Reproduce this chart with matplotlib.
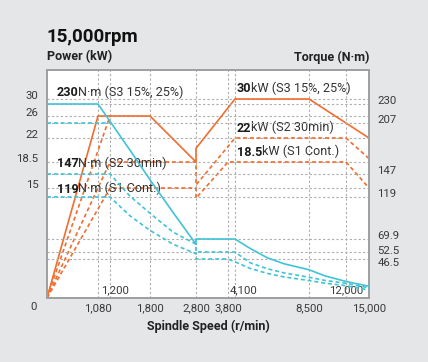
import numpy as np
import matplotlib
matplotlib.use("Agg")
import matplotlib.pyplot as plt
from matplotlib.transforms import ScaledTranslation

# ---------------- data ----------------
# Power curves (kW) vs spindle speed (r/min)
p_s3_rpm = [0, 1080, 1800, 2800, 2800, 4100, 8500, 15000]
p_s3_kw = [0, 26, 26, 18.5, 20.5, 30, 30, 22]

p_s3b_rpm = [0, 1200]
p_s3b_kw = [0, 26]

p_s2_rpm = [0, 1200, 2800, 2800, 4100, 12000, 15000]
p_s2_kw = [0, 18.5, 18.5, 15.4, 22, 22, 19]

p_s1_rpm = [0, 1200, 2800, 2800, 3800, 12000, 15000]
p_s1_kw = [0, 15, 15, 13.6, 18.5, 18.5, 15]

# Torque curves (N·m)
t_s3_rpm = [0, 1080, 1500, 1800, 2300, 2800, 2800, 4100, 5000, 6000, 7000, 8500, 10000, 12000, 15000]
t_s3_nm = [230, 230, 175, 140, 101, 63, 69.9, 69.9, 57.3, 47.7, 40.9, 33.7, 26.4, 19.7, 14.0]

t_s3b_rpm = [0, 1200]
t_s3b_nm = [207, 207]

t_s2_rpm = [0, 1200, 1500, 1800, 2300, 2800, 2800, 4100, 5000, 6000, 7000, 8500, 10000, 12000, 15000]
t_s2_nm = [147, 147, 120, 100, 78, 63, 52.5, 52.5, 42, 35, 30, 24.7, 21, 17.5, 12.1]

t_s1_rpm = [0, 1200, 1500, 1800, 2300, 2800, 2800, 3800, 4100, 5000, 6000, 7000, 8500, 10000, 12000, 15000]
t_s1_nm = [119, 119, 97, 80, 63, 51, 46.5, 46.5, 43.1, 35.3, 29.4, 25.2, 20.8, 17.7, 14.7, 9.5]

x_ticks = [1080, 1800, 2800, 3800, 8500, 15000]
x_tick_labels = ["1,080", "1,800", "2,800", "3,800", "8,500", "15,000"]
x_inner = [1200, 4100, 12000]
x_inner_labels = ["1,200", "4,100", "12,000"]
power_ticks = [15, 18.5, 22, 26, 30]
power_tick_labels = ["15", "18.5", "22", "26", "30"]
torque_ticks = [46.5, 52.5, 69.9, 119, 147, 207, 230]
torque_tick_labels = ["46.5", "52.5", "69.9", "119", "147", "207", "230"]

# ---------------- layout / scales ----------------
W, H = 428, 362
DPI = 100
AX_L, AX_R, AX_T, AX_B = 47, 369, 70, 298

# non-uniform axis scales of the original chart (value -> pixel distance)
X_ANCH_V = [0, 1080, 1200, 1800, 2800, 3800, 4100, 8500, 12000, 15000]
X_ANCH_P = [0, 51, 63, 103, 149, 181, 188, 262, 299, 322]
P_ANCH_V = [0, 15, 18.5, 22, 26, 30, 36.8]
P_ANCH_P = [0, 110, 136, 160, 182, 199, 228]
T_ANCH_V = [0, 46.5, 52.5, 69.9, 119, 147, 207, 230, 270.5]
T_ANCH_P = [0, 39, 46, 59, 101, 124, 175, 194, 228]


def make_scale(av, ap):
    def fwd(v):
        return np.interp(v, av, ap)

    def inv(p):
        return np.interp(p, ap, av)
    return fwd, inv


ORANGE = "#f26d2e"
CYAN = "#3fc3d6"
GRID = "#adadad"
TXT = "#3a3a3a"
FONT = ["Roboto", "DejaVu Sans"]
plt.rcParams["font.family"] = FONT

fig = plt.figure(figsize=(W / DPI, H / DPI), dpi=DPI)
fig.patch.set_facecolor("#e5e6e8")
ax = fig.add_axes([AX_L / W, 1 - AX_B / H, (AX_R - AX_L) / W, (AX_B - AX_T) / H])
ax.set_facecolor("white")
ax.set_xscale("function", functions=make_scale(X_ANCH_V, X_ANCH_P))
ax.set_yscale("function", functions=make_scale(P_ANCH_V, P_ANCH_P))
ax.set_xlim(0, 15000)
ax.set_ylim(0, 36.8)

ax2 = ax.twinx()
ax2.set_yscale("function", functions=make_scale(T_ANCH_V, T_ANCH_P))
ax2.set_ylim(0, 270.5)

for a in (ax, ax2):
    for s in a.spines.values():
        s.set_color("#a0a0a0")
        s.set_linewidth(1.3)

# grid lines
gkw = dict(color=GRID, lw=0.8, ls=(0, (2, 2)), zorder=1)
for v in x_ticks[:-1] + x_inner:
    ax.axvline(v, **gkw)
for v in power_ticks:
    ax.axhline(v, **gkw)
for v in torque_ticks:
    ax2.axhline(v, **gkw)

LW = 1.2
DASH = (2.4, 1.7)
ax.plot(p_s3_rpm, p_s3_kw, color=ORANGE, lw=LW, zorder=3)
ax.plot(p_s3b_rpm, p_s3b_kw, color=ORANGE, lw=LW, dashes=DASH, zorder=3)
ax.plot(p_s2_rpm, p_s2_kw, color=ORANGE, lw=LW, dashes=DASH, zorder=3)
ax.plot(p_s1_rpm, p_s1_kw, color=ORANGE, lw=LW, dashes=DASH, zorder=3)

ax2.plot(t_s3_rpm, t_s3_nm, color=CYAN, lw=LW, zorder=3)
ax2.plot(t_s3b_rpm, t_s3b_nm, color=CYAN, lw=LW, dashes=DASH, zorder=3)
ax2.plot(t_s2_rpm, t_s2_nm, color=CYAN, lw=LW, dashes=DASH, zorder=3)
ax2.plot(t_s1_rpm, t_s1_nm, color=CYAN, lw=LW, dashes=DASH, zorder=3)

# ticks
TICK_FS = 8.2
ax.set_xticks(x_ticks, x_tick_labels)
ax.set_yticks(power_ticks, power_tick_labels)
ax2.set_yticks(torque_ticks, torque_tick_labels)
ax.xaxis.set_minor_locator(matplotlib.ticker.NullLocator())
ax.yaxis.set_minor_locator(matplotlib.ticker.NullLocator())
ax2.yaxis.set_minor_locator(matplotlib.ticker.NullLocator())
ax.tick_params(axis="x", length=0, pad=4, labelsize=TICK_FS, labelcolor=TXT)
ax.tick_params(axis="y", length=0, pad=6, labelsize=TICK_FS, labelcolor=TXT)
ax2.tick_params(axis="y", length=0, pad=6, labelsize=TICK_FS, labelcolor=TXT)


def shift(lbl, dx_px, dy_px):
    lbl.set_transform(lbl.get_transform()
                      + ScaledTranslation(dx_px / DPI, dy_px / DPI, fig.dpi_scale_trans))


for lbl in ax.get_yticklabels():
    shift(lbl, 0, 4)
right_shift = {"46.5": -3.5, "52.5": 2.5}
for lbl in ax2.get_yticklabels():
    shift(lbl, 0, right_shift.get(lbl.get_text(), 4))

# inner x labels (centre offsets in pixels from their grid line)
inner_off = {1200: 5, 4100: 9, 12000: 0}
for v, s in zip(x_inner, x_inner_labels):
    t = ax.text(v, 0.035, s, transform=ax.get_xaxis_transform(), ha="center", va="center",
                fontsize=TICK_FS, color=TXT, zorder=4)
    shift(t, inner_off[v], 0)


def ftext(x, y, s, **kw):
    return fig.text(x / W, 1 - y / H, s, **kw)


ftext(37, 307, "0", ha="right", va="center", fontsize=TICK_FS, color=TXT)
ftext(46, 37, "15,000rpm", ha="left", va="center", fontsize=13.5, fontweight="bold",
      color="#111111")
ftext(47, 57, "Power (kW)", ha="left", va="center", fontsize=9, fontweight="bold", color="#222222")
ftext(369, 57, "Torque (N·m)", ha="right", va="center", fontsize=9, fontweight="bold",
      color="#222222")
ftext(208, 326, "Spindle Speed (r/min)", ha="center", va="center", fontsize=9,
      fontweight="bold", color="#222222")

# curve annotations: bold number + regular rest
ANN_FS = 9.1


def ann(x, y, bold, rest):
    tb = ftext(x, y, bold, ha="left", va="center", fontsize=ANN_FS, fontweight="bold",
               color="#1a1a1a", zorder=5)
    a = ax.annotate(rest, xy=(1, 0), xycoords=tb, xytext=(-0.5, 0), textcoords="offset pixels",
                    ha="left", va="bottom", fontsize=ANN_FS, color="#333333",
                    annotation_clip=False, zorder=5)
    return tb, a


ann(57, 93, "230", "N·m (S3 15%, 25%)")
ann(57, 164, "147", "N·m (S2 30min)")
ann(57, 189, "119", "N·m (S1 Cont.)")
ann(237, 89, "30", "kW (S3 15%, 25%)")
ann(237, 128, "22", "kW (S2 30min)")
ann(237, 152, "18.5", "kW (S1 Cont.)")

fig.savefig("out.png", dpi=DPI, facecolor=fig.get_facecolor())
